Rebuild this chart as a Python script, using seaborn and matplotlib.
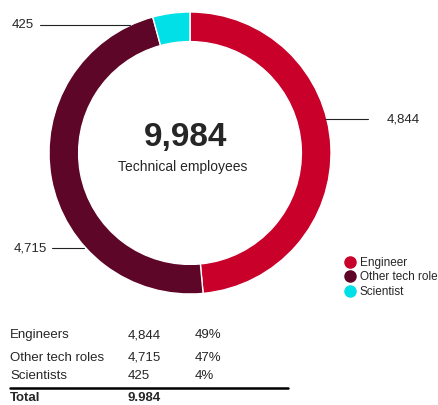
import matplotlib
matplotlib.use('Agg')
import matplotlib.pyplot as plt
import seaborn as sns

# data
roles = ['Engineer', 'Other tech role', 'Scientist']
table_names = ['Engineers', 'Other tech roles', 'Scientists']
counts = [4844, 4715, 425]
shares = ['49%', '47%', '4%']
total_label = '9.984'
center_value = '9,984'
center_caption = 'Technical employees'
colors = ['#C8002A', '#5E0628', '#00E0E6']

sns.set_style('white')
plt.rcParams['font.family'] = ['Liberation Sans', 'DejaVu Sans']

fig = plt.figure(figsize=(4.39, 4.05), dpi=100)
W, H = 439, 405

# donut axes (center ~ (190,153), radius ~141 px)
cx, cy, r = 190, 153, 141
ax = fig.add_axes([(cx - r) / W, (H - cy - r) / H, 2 * r / W, 2 * r / H])
ax.pie(counts, colors=colors, startangle=90, counterclock=False, radius=1,
       wedgeprops=dict(width=0.21, edgecolor='white', linewidth=1))
ax.set_xlim(-1, 1)
ax.set_ylim(-1, 1)
ax.set_aspect('equal')
ax.axis('off')

ax.text(-0.03, 0.11, center_value, ha='center', va='center', fontsize=24, fontweight='bold')
ax.text(-0.05, -0.10, center_caption, ha='center', va='center', fontsize=10)

# value labels with leader lines (pie-data coords), one per role
label_spots = {0: ((0.957, 0.241), 1.262, 1.397, 'left'),
               2: ((-0.426, 0.908), -1.064, -1.106, 'right'),
               1: ((-0.752, -0.674), -0.979, -1.014, 'right')}
for i, (pt, lx, tx, ha) in label_spots.items():
    ax.plot([pt[0], lx], [pt[1], pt[1]], color='#222222', lw=0.8, clip_on=False)
    ax.text(tx, pt[1], f'{counts[i]:,}', ha=ha, va='center', fontsize=9.5, clip_on=False)

# legend
handles = [plt.Line2D([], [], marker='o', linestyle='', markersize=8,
                      markerfacecolor=c, markeredgecolor=c) for c in colors]
fig.legend(handles, roles, loc='upper left', bbox_to_anchor=(339 / W, 1 - 252 / H),
           frameon=False, fontsize=8.5, handletextpad=0.35, labelspacing=0.22,
           borderaxespad=0, handlelength=1.0)

# table
rows_y = [338, 361, 379]
for y, name, c, s in zip(rows_y, table_names, counts, shares):
    fig.text(10 / W, 1 - y / H, name, ha='left', va='baseline', fontsize=9.5)
    fig.text(128 / W, 1 - y / H, f'{c:,}', ha='left', va='baseline', fontsize=9.5)
    fig.text(195 / W, 1 - y / H, s, ha='left', va='baseline', fontsize=9.5)
fig.add_artist(plt.Line2D([10 / W, 288 / W], [1 - 388 / H, 1 - 388 / H], color='black', lw=1.8))
fig.text(10 / W, 1 - 401 / H, 'Total', ha='left', va='baseline', fontsize=9.5, fontweight='bold')
fig.text(128 / W, 1 - 401 / H, total_label, ha='left', va='baseline', fontsize=9.5, fontweight='bold')

fig.savefig('out.png', dpi=100)
